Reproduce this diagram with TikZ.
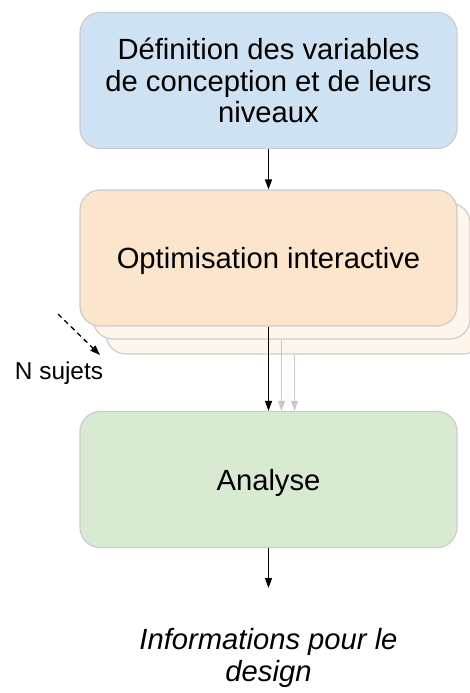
\documentclass[tikz,border=0pt]{standalone}
\usepackage{fontspec}
\setmainfont{Liberation Sans}
\usetikzlibrary{arrows.meta}

\definecolor{bleu}{HTML}{CFE2F3}
\definecolor{orange}{HTML}{FCE5CD}
\definecolor{orangeclair}{HTML}{FEF5EB}
\definecolor{vert}{HTML}{D9EAD3}
\definecolor{bord}{HTML}{CCCCCC}
\definecolor{grisfleche}{HTML}{C8C8C8}

\begin{document}
\begin{tikzpicture}[x=1pt,y=1pt,
                etape/.style={draw=bord,line width=1.2pt,rounded corners=20pt,
                    minimum width=377pt,minimum height=136pt,align=center,
                    font=\fontsize{29.2}{31.5}\selectfont},
                uneligne/.style={text height=21pt,text depth=0pt},
                fleche/.style={line width=1.3pt,-{Triangle[length=10pt,width=7pt]}}]
                \useasboundingbox (0,0) rectangle (470,-693);
                \node[etape,fill=bleu] (def) at (268.5,-80.5) {\raisebox{-3pt}{\parbox{360pt}{\centering Définition des variables\\de conception et de leurs\\niveaux}}};
                \node[etape,fill=orangeclair] (opt3) at (294.5,-286) {};
                \node[etape,fill=orangeclair] (opt2) at (281.5,-271) {};
                \node[etape,uneligne,fill=orange] (opt) at (268.5,-258) {Optimisation interactive};
                \node[etape,uneligne,fill=vert] (ana) at (268.5,-479.5) {Analyse};
                \node[align=center,font=\fontsize{29.2}{31.5}\selectfont\itshape] (info) at (268.5,-658) {Informations pour le\\design};
                \coordinate (sortie) at (268.5,-588);
                \coordinate (dA) at (58,-314);
                \coordinate (dB) at (100,-355);
                \node[font=\fontsize{24.4}{28}\selectfont] (sujets) at (59,-373) {N sujets};
                \draw[fleche] (def) -- (opt);
                \draw[fleche,draw=grisfleche,fill=grisfleche] (opt3.south) -- (opt3.south |- ana.north);
                \draw[fleche,draw=grisfleche,fill=grisfleche] (opt2.south) -- (opt2.south |- ana.north);
                \draw[fleche] (opt) -- (ana);
                \draw[fleche] (ana) -- (sortie);
                \draw[fleche,dash pattern=on 5pt off 4pt] (dA) -- (dB);
            \end{tikzpicture}
\end{document}
